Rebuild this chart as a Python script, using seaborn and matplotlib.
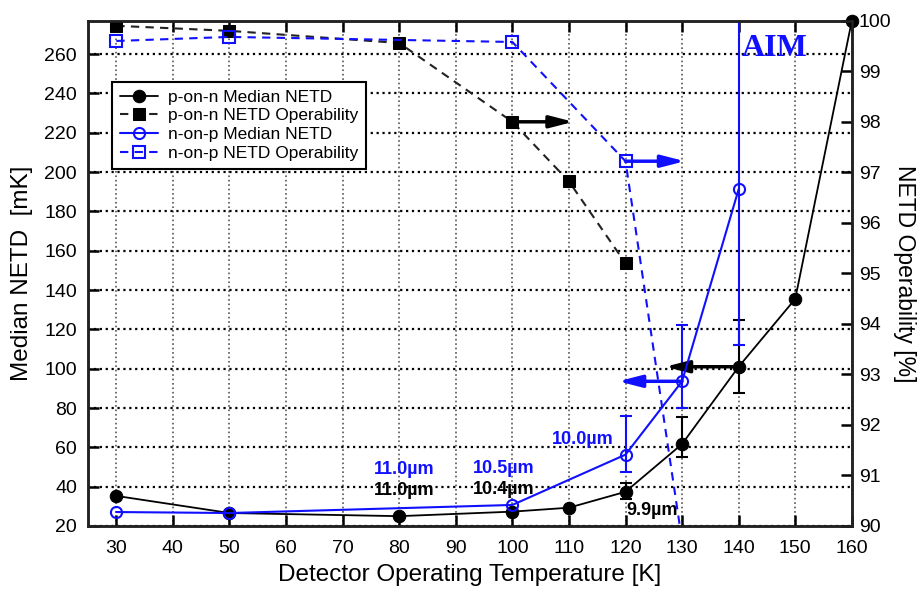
import matplotlib
matplotlib.use("Agg")
import matplotlib.pyplot as plt
import seaborn as sns
import numpy as np

# temperatures [K]
temp_pn = [30, 50, 80, 100, 110, 120, 130, 140, 150, 160]
netd_pn = [35.3, 26.6, 25.0, 27.3, 29.3, 37.4, 61.7, 101.0, 135.5, 277.0]

temp_np = [30, 50, 100, 120, 130, 140]
netd_np = [27.1, 26.6, 30.7, 56.3, 93.6, 191.3]

# operability [%]
temp_op_pn = [30, 50, 80, 100, 110, 120]
oper_pn = [99.9, 99.8, 99.56, 98.0, 96.82, 95.2]

temp_op_np = [30, 50, 100, 120, 130]
oper_np = [99.6, 99.68, 99.58, 97.22, 89.7]

# error bars (lower, upper) in mK
err_t_pn = [120, 130, 140]
err_y_pn = [37.4, 61.7, 101.0]
err_lo_pn = [3.5, 6.6, 13.2]
err_hi_pn = [4.5, 13.7, 23.9]

err_t_np = [120, 130, 140]
err_y_np = [56.3, 93.6, 191.3]
err_lo_np = [9.0, 13.4, 79.0]
err_hi_np = [19.8, 28.7, 95.0]

blue = "#1010ff"

sns.set_style("ticks")
plt.rcParams["font.family"] = ["Liberation Sans", "DejaVu Sans"]
plt.rcParams["text.color"] = "black"
plt.rcParams["axes.labelcolor"] = "black"
plt.rcParams["xtick.color"] = "black"
plt.rcParams["ytick.color"] = "black"

fig = plt.figure(figsize=(9.18, 5.93), dpi=100)
ax1 = fig.add_axes([0.0959, 0.113, 0.832, 0.852])
ax2 = ax1.twinx()

# median NETD (left axis)
ax1.errorbar(err_t_pn, err_y_pn, yerr=[err_lo_pn, err_hi_pn], fmt="none",
             ecolor="black", elinewidth=1.5, capsize=4, capthick=1.5, zorder=3)
ax1.errorbar(err_t_np, err_y_np, yerr=[err_lo_np, err_hi_np], fmt="none",
             ecolor=blue, elinewidth=1.5, capsize=4, capthick=1.5, zorder=3)
sns.lineplot(x=temp_pn, y=netd_pn, ax=ax1, color="black", marker="o",
             markersize=9, markeredgecolor="black", lw=1.3,
             label="p-on-n Median NETD", clip_on=False, zorder=4)
sns.lineplot(x=temp_np, y=netd_np, ax=ax1, color=blue, marker="o",
             markersize=8, markerfacecolor="none", markeredgecolor=blue,
             markeredgewidth=1.5, lw=1.5, label="n-on-p Median NETD", zorder=5)

# operability (right axis)
sns.lineplot(x=temp_op_pn, y=oper_pn, ax=ax2, color="#222222", marker="s",
             markersize=8, markerfacecolor="black", markeredgecolor="black",
             linestyle=(0, (4, 3)), lw=1.5, label="p-on-n NETD Operability")
sns.lineplot(x=temp_op_np, y=oper_np, ax=ax2, color=blue, marker="s",
             markersize=8, markerfacecolor="none", markeredgecolor=blue,
             markeredgewidth=1.5, linestyle=(0, (4, 3)), lw=1.5,
             label="n-on-p NETD Operability")

ax1.set_xlim(25, 160)
ax1.set_ylim(20, 277)
ax2.set_ylim(90, 100)
ax1.set_xticks(np.arange(30, 161, 10))
ax1.set_yticks(np.arange(20, 261, 20))
ax2.set_yticks(np.arange(90, 101, 1))

ax1.grid(axis="x", linestyle=":", color="#555555", lw=1.2)
ax1.grid(axis="y", linestyle=":", color="black", lw=1.6)
ax1.set_axisbelow(True)

ax1.tick_params(axis="x", direction="in", length=8, width=1.8, top=True,
                labelsize=14, pad=10)
ax1.tick_params(axis="y", direction="in", length=8, width=1.8, labelsize=14,
                pad=8)
ax2.tick_params(axis="y", direction="in", length=8, width=1.8, labelsize=14,
                pad=5)
for ax in (ax1, ax2):
    for s in ax.spines.values():
        s.set_linewidth(1.8)
        s.set_color("#222222")

ax1.set_xlabel("Detector Operating Temperature [K]", fontsize=17.5, labelpad=5)
ax1.set_ylabel("Median NETD  [mK]", fontsize=17.5, labelpad=8)
ax2.set_ylabel("NETD Operability [%]", fontsize=16.5, rotation=270,
               va="bottom", labelpad=1)

# arrows pointing to the relevant axis
arrow = dict(arrowstyle="-|>,head_length=0.7,head_width=0.18", lw=2.5,
             mutation_scale=20, shrinkA=0, shrinkB=0)
ax2.annotate("", xy=(110.8, 98.0), xytext=(100, 98.0),
             arrowprops=dict(arrow, color="black"))
ax2.annotate("", xy=(130.5, 97.22), xytext=(120, 97.22),
             arrowprops=dict(arrow, color=blue))
ax1.annotate("", xy=(127, 101.0), xytext=(140, 101.0),
             arrowprops=dict(arrow, color="black"))
ax1.annotate("", xy=(118.7, 93.6), xytext=(130, 93.6),
             arrowprops=dict(arrow, color=blue))

# cutoff wavelengths
lab = dict(fontsize=13, fontweight="bold", ha="center", va="center")
ax1.text(80.9, 48.5, "11.0µm", color=blue, **lab)
ax1.text(80.9, 38.3, "11.0µm", color="black", **lab)
ax1.text(98.4, 49.0, "10.5µm", color=blue, **lab)
ax1.text(98.4, 38.8, "10.4µm", color="black", **lab)
ax1.text(112.5, 63.8, "10.0µm", color=blue, **lab)
ax1.text(124.7, 28.1, "9.9µm", color="black", **lab)
ax1.text(140.6, 262.7, "AIM", color=blue, fontsize=23, fontweight="bold",
         family="Liberation Serif", ha="left", va="center")

# legend from both axes
h1, l1 = ax1.get_legend_handles_labels()
h2, l2 = ax2.get_legend_handles_labels()
ax1.get_legend().remove()
handles = [h1[0], h2[0], h1[1], h2[1]]
labels = [l1[0], l2[0], l1[1], l2[1]]
leg = ax2.legend(handles, labels, loc="upper left", bbox_to_anchor=(0.031, 0.879),
                 borderaxespad=0, fontsize=12.5, fancybox=False, framealpha=1,
                 edgecolor="black", handlelength=2.2, labelspacing=0.2,
                 borderpad=0.45, handletextpad=0.6)
leg.get_frame().set_linewidth(1.5)

fig.savefig("out.png", dpi=100)
